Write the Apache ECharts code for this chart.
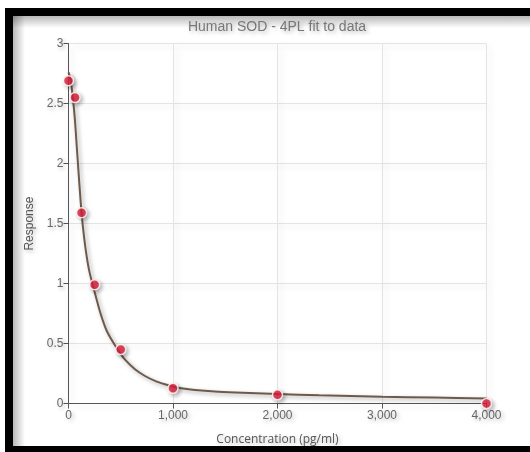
<!DOCTYPE html>
<html>
<head>
<meta charset="utf-8">
<script src="https://cdn.jsdelivr.net/npm/echarts@6/dist/echarts.min.js"></script>
<style>
html,body{margin:0;padding:0;background:#fff;width:530px;height:452px;overflow:hidden;position:relative;}
.bar{position:absolute;background:#000;}
#top{left:5px;top:8px;width:525px;height:8px;}
#left{left:5px;top:8px;width:8px;height:444px;}
#bottom{left:5px;top:446px;width:525px;height:6px;}
#shTop{position:absolute;left:13px;top:16px;width:517px;height:12px;background:linear-gradient(to bottom,rgba(0,0,0,0.28),rgba(0,0,0,0));}
#shLeft{position:absolute;left:13px;top:16px;width:12px;height:430px;background:linear-gradient(to right,rgba(0,0,0,0.28),rgba(0,0,0,0));}
#rightWhite{position:absolute;left:515px;top:28px;width:15px;height:418px;background:#fff;}
#chart{position:absolute;left:0;top:0;width:530px;height:452px;}
</style>
</head>
<body>
<div id="shTop"></div>
<div id="shLeft"></div>
<div id="chart"></div>
<div id="rightWhite"></div>
<div class="bar" id="top"></div>
<div class="bar" id="left"></div>
<div class="bar" id="bottom"></div>
<script>
// Measured standards
const concentrations = [0, 62.5, 125, 250, 500, 1000, 2000, 4000];
const responses = [2.69, 2.55, 1.59, 0.99, 0.45, 0.127, 0.073, 0.0];

// Fitted curve
const curveConc = [0, 20, 40, 60, 80, 100, 125, 150, 175, 200, 250, 300, 350, 381, 440, 493, 541, 636, 732, 828, 923, 1003, 1115, 1211, 1400, 1600, 2000, 2400, 3000, 3500, 4000];
const curveResp = [2.76, 2.70, 2.56, 2.38, 2.13, 1.88, 1.59, 1.38, 1.22, 1.10, 0.93, 0.77, 0.64, 0.58, 0.492, 0.422, 0.366, 0.286, 0.23, 0.19, 0.161, 0.141, 0.124, 0.113, 0.10, 0.092, 0.08, 0.07, 0.058, 0.05, 0.042];

const xTicks = [0, 1000, 2000, 3000, 4000];
const yTicks = [0, 0.5, 1, 1.5, 2, 2.5, 3];

const titleText = 'Human SOD - 4PL fit to data';
const xName = 'Concentration (pg/ml)';
const yName = 'Response';

const shadowText = {textShadowColor:'rgba(0,0,0,0.3)', textShadowBlur:4, textShadowOffsetX:2, textShadowOffsetY:2};

const chart = echarts.init(document.getElementById('chart'), null, {renderer:'canvas'});
chart.setOption({
  animation:false,
  backgroundColor:'transparent',
  title:{text:titleText, left:272, top:15, textAlign:'center',
    textStyle:Object.assign({fontFamily:'Liberation Sans', fontSize:14, fontWeight:'normal', color:'#777'}, shadowText)},
  grid:{left:68.5, right:43.5, top:43.6, bottom:48.4, containLabel:false},
  xAxis:{type:'value', min:xTicks[0], max:xTicks[xTicks.length-1], interval:1000,
    name:xName, nameLocation:'middle', nameGap:30,
    nameTextStyle:Object.assign({fontFamily:'Open Sans', fontSize:12, color:'#555'}, shadowText),
    axisLine:{show:true, lineStyle:{color:'#555', width:1}},
    axisTick:{show:true, length:5, lineStyle:{color:'#555'}},
    axisLabel:Object.assign({fontFamily:'Liberation Sans', fontSize:12, color:'#666', margin:6,
      formatter:v=>v.toLocaleString('en-US')}, shadowText),
    splitLine:{show:true, lineStyle:{color:'#e4e4e4', width:1, shadowColor:'rgba(0,0,0,0.15)', shadowBlur:6, shadowOffsetX:3, shadowOffsetY:3}}
  },
  yAxis:{type:'value', min:yTicks[0], max:yTicks[yTicks.length-1], interval:0.5,
    name:yName, nameLocation:'middle', nameGap:33,
    nameTextStyle:Object.assign({fontFamily:'Liberation Sans', fontSize:12, color:'#555'}, shadowText),
    axisLine:{show:true, lineStyle:{color:'#555', width:1}},
    axisTick:{show:true, length:5, lineStyle:{color:'#555'}},
    axisLabel:Object.assign({fontFamily:'Liberation Sans', fontSize:12, color:'#666', margin:5}, shadowText),
    splitLine:{show:true, lineStyle:{color:'#e4e4e4', width:1, shadowColor:'rgba(0,0,0,0.15)', shadowBlur:6, shadowOffsetX:3, shadowOffsetY:3}}
  },
  series:[
    {type:'line', data:curveConc.map((c,i)=>[c, curveResp[i]]), smooth:0.3, showSymbol:false, z:2,
      lineStyle:{color:'#6e5a4c', width:2, shadowColor:'rgba(0,0,0,0.35)', shadowBlur:4, shadowOffsetX:2, shadowOffsetY:2}},
    {type:'scatter', data:concentrations.map((c,i)=>[c, responses[i]]), symbolSize:10, z:3, clip:false,
      itemStyle:{color:'#e8203c', borderColor:'#fff', borderWidth:1.5, shadowColor:'rgba(0,0,0,0.35)', shadowBlur:4, shadowOffsetX:2, shadowOffsetY:2}}
  ]
});
</script>
</body>
</html>
